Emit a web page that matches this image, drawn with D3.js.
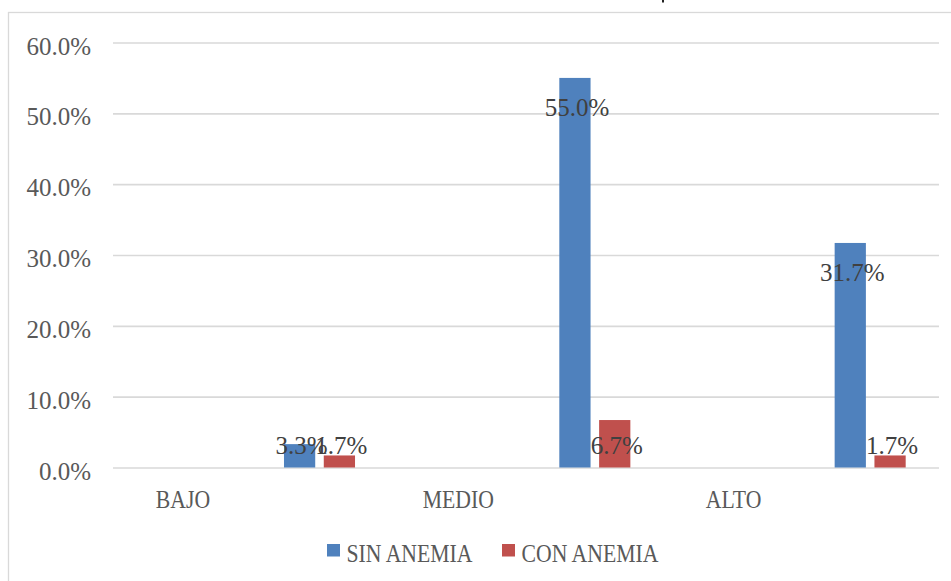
<!DOCTYPE html>
<html>
<head>
<meta charset="utf-8">
<script src="https://cdn.jsdelivr.net/npm/d3@7"></script>
<style>
  html, body { margin: 0; padding: 0; background: #ffffff; }
  svg { display: block; }
  text { font-family: "Liberation Serif", "Times New Roman", serif; }
</style>
</head>
<body>
<svg id="chart" width="951" height="581"></svg>
<script>
// ---- data ----
const categories = ["BAJO", "MEDIO", "ALTO"];
const seriesNames = ["SIN ANEMIA", "CON ANEMIA"];
const sinAnemia = [3.3, 55.0, 31.7];
const conAnemia = [1.7, 6.7, 1.7];
const yTicks = [0, 10, 20, 30, 40, 50, 60];
const seriesColors = ["#4f81bd", "#c0504d"];

const seriesValues = [sinAnemia, conAnemia];
const rows = [];
categories.forEach((c, i) => {
  seriesNames.forEach((s, j) => rows.push({ cat: c, series: s, value: seriesValues[j][i], color: seriesColors[j] }));
});

const svg = d3.select("#chart");
const plot = { left: 113, right: 939, top: 42.5, bottom: 467.5 };
const letterScale = 1.16;       // letters in the reference are taller than wide
const fmt = v => v.toFixed(1) + "%";

// chart frame
svg.append("rect")
  .attr("x", 8.5).attr("y", 12.5)
  .attr("width", 1000).attr("height", 1000)
  .attr("fill", "none").attr("stroke", "#d9d9d9").attr("stroke-width", 1.3);

// small mark from the cut-off title above the frame
svg.append("rect")
  .attr("x", 662).attr("y", 0).attr("width", 2).attr("height", 2.5)
  .attr("fill", "#222");

const x = d3.scaleBand().domain(categories).range([plot.left, plot.right]);
const bw = x.bandwidth();
const xs = d3.scaleBand().domain(seriesNames)
  .range([bw * 0.621, bw * 0.879]).paddingInner(0.215);
const y = d3.scaleLinear().domain([0, 60]).range([plot.bottom, plot.top]);

// y axis with gridlines
const yAxis = svg.append("g")
  .attr("transform", `translate(${plot.left},0)`)
  .call(d3.axisLeft(y).tickValues(yTicks).tickFormat(fmt)
        .tickSize(-(plot.right - plot.left)).tickPadding(22));
yAxis.select(".domain").remove();
yAxis.selectAll(".tick line").attr("stroke", "#d9d9d9").attr("stroke-width", 1.6);
yAxis.selectAll(".tick text")
  .attr("font-family", "Liberation Serif, serif")
  .attr("font-size", 25).attr("fill", "#595959")
  .attr("y", 11.6).attr("dy", null);

// bars
svg.append("g").selectAll("rect").data(rows).join("rect")
  .attr("x", d => x(d.cat) + xs(d.series))
  .attr("width", xs.bandwidth())
  .attr("y", d => y(d.value))
  .attr("height", d => y(0) - y(d.value))
  .attr("fill", d => d.color);

// data labels (inside end, clamped near the base)
svg.append("g").selectAll("text").data(rows).join("text")
  .attr("x", d => x(d.cat) + xs(d.series) + xs.bandwidth() / 2 + 2)
  .attr("y", d => Math.min(y(d.value) + 30, 445.5) + 8.5)
  .attr("text-anchor", "middle")
  .attr("font-size", 25).attr("fill", "#404040")
  .text(d => fmt(d.value));

// category labels
svg.append("g").selectAll("g").data(categories).join("g")
  .attr("transform", c => `translate(${x(c) + bw * 0.254},508) scale(1,${letterScale})`)
  .append("text")
  .attr("text-anchor", "middle")
  .attr("font-size", 21.7).attr("fill", "#595959")
  .text(c => c);

// legend
const legendX = [327, 502];
const lg = svg.append("g").selectAll("g").data(seriesNames).join("g")
  .attr("transform", (s, i) => `translate(${legendX[i]},0)`);
lg.append("rect")
  .attr("x", 0).attr("y", 544).attr("width", 13).attr("height", 12.5)
  .attr("fill", (s, i) => seriesColors[i]);
lg.append("g")
  .attr("transform", `translate(19.5,561.5) scale(1,${letterScale})`)
  .append("text")
  .attr("font-size", 21.7).attr("fill", "#595959")
  .text(s => s);
</script>
</body>
</html>
